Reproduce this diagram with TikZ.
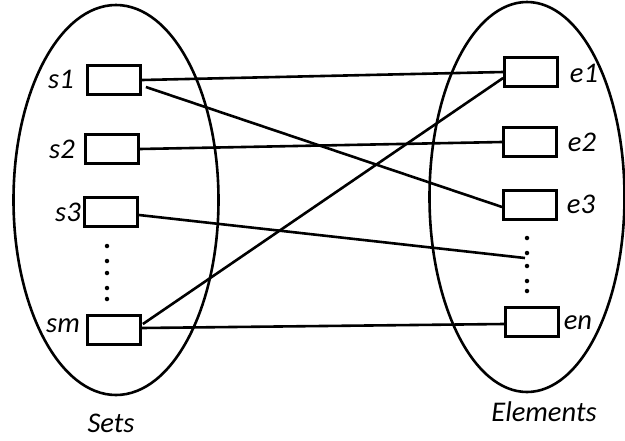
\documentclass[tikz,border=0pt]{standalone}
\usepackage{fontspec}
\setmainfont{Carlito}
\usetikzlibrary{shapes.geometric}
\begin{document}
\begin{tikzpicture}[x=1pt,y=-1pt,
  boxn/.style={draw,line width=2.8pt,minimum width=53pt,minimum height=29pt,inner sep=0pt},
  oval/.style={draw,ellipse,line width=2.6pt,inner sep=0pt},
  lab/.style={font=\fontsize{28.5}{32}\selectfont\itshape,inner sep=0pt},
  link/.style={line width=2.6pt},
  dot/.style={fill,circle,inner sep=0pt,minimum size=4.5pt}]
\useasboundingbox (0,0) rectangle (625,440);
\node[oval,minimum width=205pt,minimum height=390pt] (sets) at (116,200) {};
\node[oval,minimum width=195pt,minimum height=390pt] (elems) at (527,197) {};
% left boxes
\node[boxn] (s1) at (114,80) {};
\node[boxn] (s2) at (112,149) {};
\node[boxn] (s3) at (111,212) {};
\node[boxn] (sm) at (114,330) {};
% right boxes
\node[boxn] (e1) at (531,72) {};
\node[boxn] (e2) at (530,142) {};
\node[boxn] (e3) at (530,205) {};
\node[boxn] (en) at (532,322) {};
% labels
\node[lab] (ls1) at (61,79) {s1};
\node[lab] (ls2) at (62,149) {s2};
\node[lab] (ls3) at (68,212) {s3};
\node[lab] (lsm) at (63,326) {sm};
\node[lab] (le1) at (584,73) {e1};
\node[lab] (le2) at (582,142) {e2};
\node[lab] (le3) at (581,204) {e3};
\node[lab] (len) at (578,323) {en};
\node[lab] (lsets) at (111,423) {Sets};
\node[lab] (lelem) at (544,412) {Elements};
% dots
\foreach \y [count=\i] in {246,261,273,288,299} \node[dot] (ld\i) at (107,\y) {};
\foreach \y [count=\i] in {238,253,266,281,291} \node[dot] (rd\i) at (527,\y) {};
\coordinate (d3) at (525,258);
% connectors
\draw[link] (s1.east) -- (e1.west);
\draw[link] ([xshift=4pt,yshift=-7pt]s1.east) -- ([yshift=-2pt]e3.west);
\draw[link] (s2.east) -- (e2.west);
\draw[link] ([yshift=-3pt]s3.east) -- (d3);
\draw[link] ([xshift=1pt,yshift=6pt]sm.east) -- ([yshift=-6pt]e1.west);
\draw[link] ([yshift=2pt]sm.east) -- ([yshift=-2pt]en.west);
\end{tikzpicture}
\end{document}
